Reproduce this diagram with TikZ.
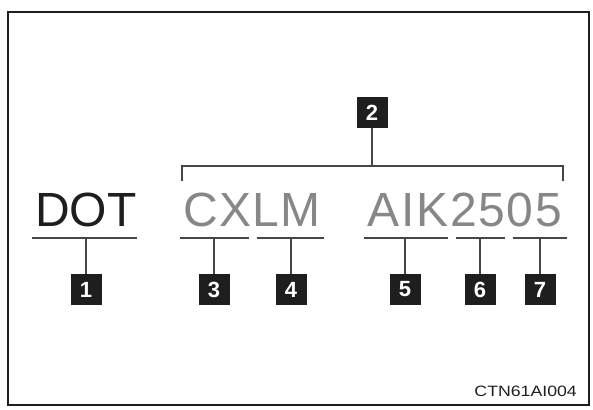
\documentclass[tikz,border=0pt]{standalone}
\usepackage{fontspec}
\setmainfont{Liberation Sans}
\usepackage{tikz}
\definecolor{inkdark}{RGB}{30,30,30}
\definecolor{codegray}{RGB}{135,135,135}
\definecolor{rulegray}{RGB}{70,70,70}

\begin{document}
\begin{tikzpicture}[x=1pt, y=-1pt,
  tag/.style={fill=inkdark, text=white, minimum size=31pt, inner sep=0pt,
    font=\fontsize{22}{22}\selectfont\bfseries},
  big/.style={anchor=base, inner sep=0pt, font=\fontsize{48}{48}\selectfont},
  rule/.style={rulegray, line width=1.5pt}]

\useasboundingbox (0,0) rectangle (593,409);
\draw[line width=1.8pt, inkdark] (8,12) rectangle (589,405);

% the code as printed
\node[big, text=inkdark] (dot) at (86,226) {DOT};
\node[big, text=codegray] (cxlm) at (252,226) {\addfontfeature{LetterSpace=2.5}CXLM};
\node[big, text=codegray] (aik) at (465,226) {\addfontfeature{LetterSpace=3.5}AIK2505};

% underlines and numbered tags
\foreach \n/\x/\a/\b in {1/86/32/137, 3/214/180/249, 4/291/257/324,
                         5/405/364/448, 6/480/456/505, 7/540/513/567}{
  \coordinate (u\n) at (\x,238);
  \draw[rule] (\a,238) -- (\b,238);
  \node[tag] (n\n) at (\x,289.5) {\n};
  \draw[rule] (u\n) -- (n\n);
}

% bracket over the manufacturer part
\node[tag] (n2) at (372,112.5) {2};
\coordinate (top) at (372,166);
\coordinate (bl) at (182,181);
\coordinate (br) at (563,181);
\draw[rule] (bl) |- (top) -| (br);
\draw[rule] (n2) -- (top);

\node[anchor=base east, inner sep=0pt, text=inkdark,
  font=\fontsize{15}{15}\selectfont] (ref) at (577,396) {\scalebox{1.18}[1]{CTN61AI004}};

\end{tikzpicture}
\end{document}
